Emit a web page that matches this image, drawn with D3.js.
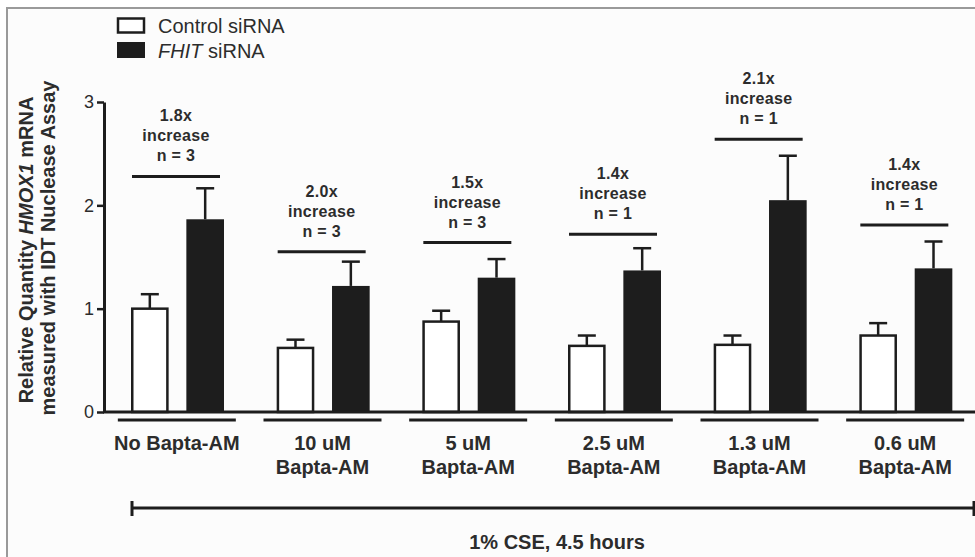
<!DOCTYPE html>
<html>
<head>
<meta charset="utf-8">
<script src="https://cdn.jsdelivr.net/npm/d3@7"></script>
<style>
  body { margin: 0; background: #fff; }
  svg { display: block; font-family: "Liberation Sans", Arial, sans-serif; }
</style>
</head>
<body>
<svg id="chart" width="975" height="557"></svg>
<script>
// data
var labelTop = ["No Bapta-AM", "10 uM", "5 uM", "2.5 uM", "1.3 uM", "0.6 uM"];
var labelBottom = ["", "Bapta-AM", "Bapta-AM", "Bapta-AM", "Bapta-AM", "Bapta-AM"];
var control = [1.00, 0.62, 0.875, 0.64, 0.65, 0.74];
var controlErr = [0.14, 0.08, 0.105, 0.10, 0.09, 0.12];
var fhit = [1.865, 1.22, 1.30, 1.37, 2.05, 1.39];
var fhitErr = [0.30, 0.235, 0.18, 0.215, 0.43, 0.26];
var foldText = ["1.8x", "2.0x", "1.5x", "1.4x", "2.1x", "1.4x"];
var nText = ["n = 3", "n = 3", "n = 3", "n = 1", "n = 1", "n = 1"];
var bracketLevel = [2.28, 1.55, 1.64, 1.72, 2.64, 1.81];
var yTicks = [0, 1, 2, 3];

var ink = "#1d1d1d";
var textCol = "#2c2c2c";

var svg = d3.select("#chart");

// frame of the figure panel
svg.append("rect")
  .attr("x", 7).attr("y", 8)
  .attr("width", 1000).attr("height", 600)
  .attr("fill", "#fcfcfc")
  .attr("stroke", "#9a9a9a")
  .attr("stroke-width", 2);

var y = d3.scaleLinear().domain([0, 3]).range([412, 102]);
var x0 = d3.scaleBand().domain(d3.range(6)).range([105, 979]).padding(0);
var x1 = d3.scaleBand().domain(["control", "fhit"]).range([26, 119]).paddingInner(0.32);

// y axis
var yAxis = svg.append("g")
  .attr("transform", "translate(104,0)")
  .call(d3.axisLeft(y).tickValues(yTicks).tickFormat(d3.format("d")).tickSize(7).tickSizeOuter(0));
yAxis.select(".domain").attr("stroke", ink).attr("stroke-width", 3);
yAxis.selectAll(".tick line").attr("stroke", ink).attr("stroke-width", 2.5);
yAxis.selectAll(".tick text")
  .attr("font-size", 18).attr("fill", textCol)
  .attr("font-family", "Liberation Sans, Arial, sans-serif")
  .attr("x", -10);

// y axis title
var yTitle = svg.append("text")
  .attr("transform", "translate(33,250) rotate(-90)")
  .attr("text-anchor", "middle")
  .attr("font-size", 20).attr("font-weight", "bold").attr("fill", textCol);
yTitle.append("tspan").text("Relative Quantity ");
yTitle.append("tspan").attr("font-style", "italic").text("HMOX1");
yTitle.append("tspan").text(" mRNA");
svg.append("text")
  .attr("transform", "translate(55,248) rotate(-90)")
  .attr("text-anchor", "middle")
  .attr("font-size", 20).attr("font-weight", "bold").attr("fill", textCol)
  .text("measured with IDT Nuclease Assay");

var groups = svg.selectAll(".grp")
  .data(d3.range(6))
  .enter()
  .append("g")
  .attr("class", "grp")
  .attr("transform", function(d) { return "translate(" + x0(d) + ",0)"; });

var bw = x1.bandwidth();

// error bars (upper only)
function errBar(key, vals, errs) {
  groups.append("line")
    .attr("x1", x1(key) + bw / 2).attr("x2", x1(key) + bw / 2)
    .attr("y1", function(d) { return y(vals[d]); })
    .attr("y2", function(d) { return y(vals[d] + errs[d]); })
    .attr("stroke", ink).attr("stroke-width", 2.5);
  groups.append("line")
    .attr("x1", x1(key) + bw / 2 - 9).attr("x2", x1(key) + bw / 2 + 9)
    .attr("y1", function(d) { return y(vals[d] + errs[d]); })
    .attr("y2", function(d) { return y(vals[d] + errs[d]); })
    .attr("stroke", ink).attr("stroke-width", 2.5);
}
errBar("control", control, controlErr);
errBar("fhit", fhit, fhitErr);

groups.append("rect")
  .attr("x", x1("control") + 1.25)
  .attr("width", bw - 2.5)
  .attr("y", function(d) { return y(control[d]); })
  .attr("height", function(d) { return y(0) - y(control[d]); })
  .attr("fill", "#fff")
  .attr("stroke", ink).attr("stroke-width", 2.5);

groups.append("rect")
  .attr("x", x1("fhit"))
  .attr("width", bw)
  .attr("y", function(d) { return y(fhit[d]); })
  .attr("height", function(d) { return y(0) - y(fhit[d]); })
  .attr("fill", ink);

// fold-change brackets and notes
var bx1 = x1("control") + 1, bx2 = x1("fhit") + bw - 4, bmid = (bx1 + bx2) / 2;
groups.append("line")
  .attr("x1", bx1).attr("x2", bx2)
  .attr("y1", function(d) { return y(bracketLevel[d]); })
  .attr("y2", function(d) { return y(bracketLevel[d]); })
  .attr("stroke", ink).attr("stroke-width", 3);

function note(lineNo, fn) {
  groups.append("text")
    .attr("x", bmid)
    .attr("y", function(d) { return y(bracketLevel[d]) - 15 - (2 - lineNo) * 20; })
    .attr("text-anchor", "middle")
    .attr("font-size", 16).attr("font-weight", "bold")
    .attr("letter-spacing", 0.3)
    .attr("fill", textCol)
    .text(fn);
}
note(0, function(d) { return foldText[d]; });
note(1, function() { return "increase"; });
note(2, function(d) { return nText[d]; });

// x baseline
svg.append("line")
  .attr("x1", 103).attr("x2", 975)
  .attr("y1", y(0)).attr("y2", y(0))
  .attr("stroke", ink).attr("stroke-width", 3);

// category underlines and labels
var gmid = x0.bandwidth() / 2 - 1;
groups.append("line")
  .attr("x1", gmid - 59).attr("x2", gmid + 59)
  .attr("y1", 420).attr("y2", 420)
  .attr("stroke", ink).attr("stroke-width", 3);
groups.append("text")
  .attr("x", gmid).attr("y", 450)
  .attr("text-anchor", "middle")
  .attr("font-size", 20).attr("font-weight", "bold").attr("fill", textCol)
  .text(function(d) { return labelTop[d]; });
groups.append("text")
  .attr("x", gmid).attr("y", 474)
  .attr("text-anchor", "middle")
  .attr("font-size", 20).attr("font-weight", "bold").attr("fill", textCol)
  .text(function(d) { return labelBottom[d]; });

// treatment bracket
svg.append("line")
  .attr("x1", 132).attr("x2", 974).attr("y1", 508).attr("y2", 508)
  .attr("stroke", ink).attr("stroke-width", 3);
[132, 974].forEach(function(xx) {
  svg.append("line")
    .attr("x1", xx).attr("x2", xx).attr("y1", 501).attr("y2", 516)
    .attr("stroke", ink).attr("stroke-width", 3);
});
svg.append("text")
  .attr("x", 557).attr("y", 549)
  .attr("text-anchor", "middle")
  .attr("font-size", 20).attr("font-weight", "bold").attr("fill", textCol)
  .text("1% CSE, 4.5 hours");

// legend
var legend = svg.append("g");
legend.append("rect")
  .attr("x", 118).attr("y", 18.5).attr("width", 26).attr("height", 14)
  .attr("fill", "#fff").attr("stroke", ink).attr("stroke-width", 2.5);
legend.append("rect")
  .attr("x", 117).attr("y", 42).attr("width", 28).attr("height", 16)
  .attr("fill", ink);
legend.append("text")
  .attr("x", 158).attr("y", 33)
  .attr("font-size", 20).attr("fill", textCol)
  .text("Control siRNA");
var lt = legend.append("text")
  .attr("x", 158).attr("y", 58)
  .attr("font-size", 20).attr("fill", textCol);
lt.append("tspan").attr("font-style", "italic").text("FHIT");
lt.append("tspan").text(" siRNA");
</script>
</body>
</html>
